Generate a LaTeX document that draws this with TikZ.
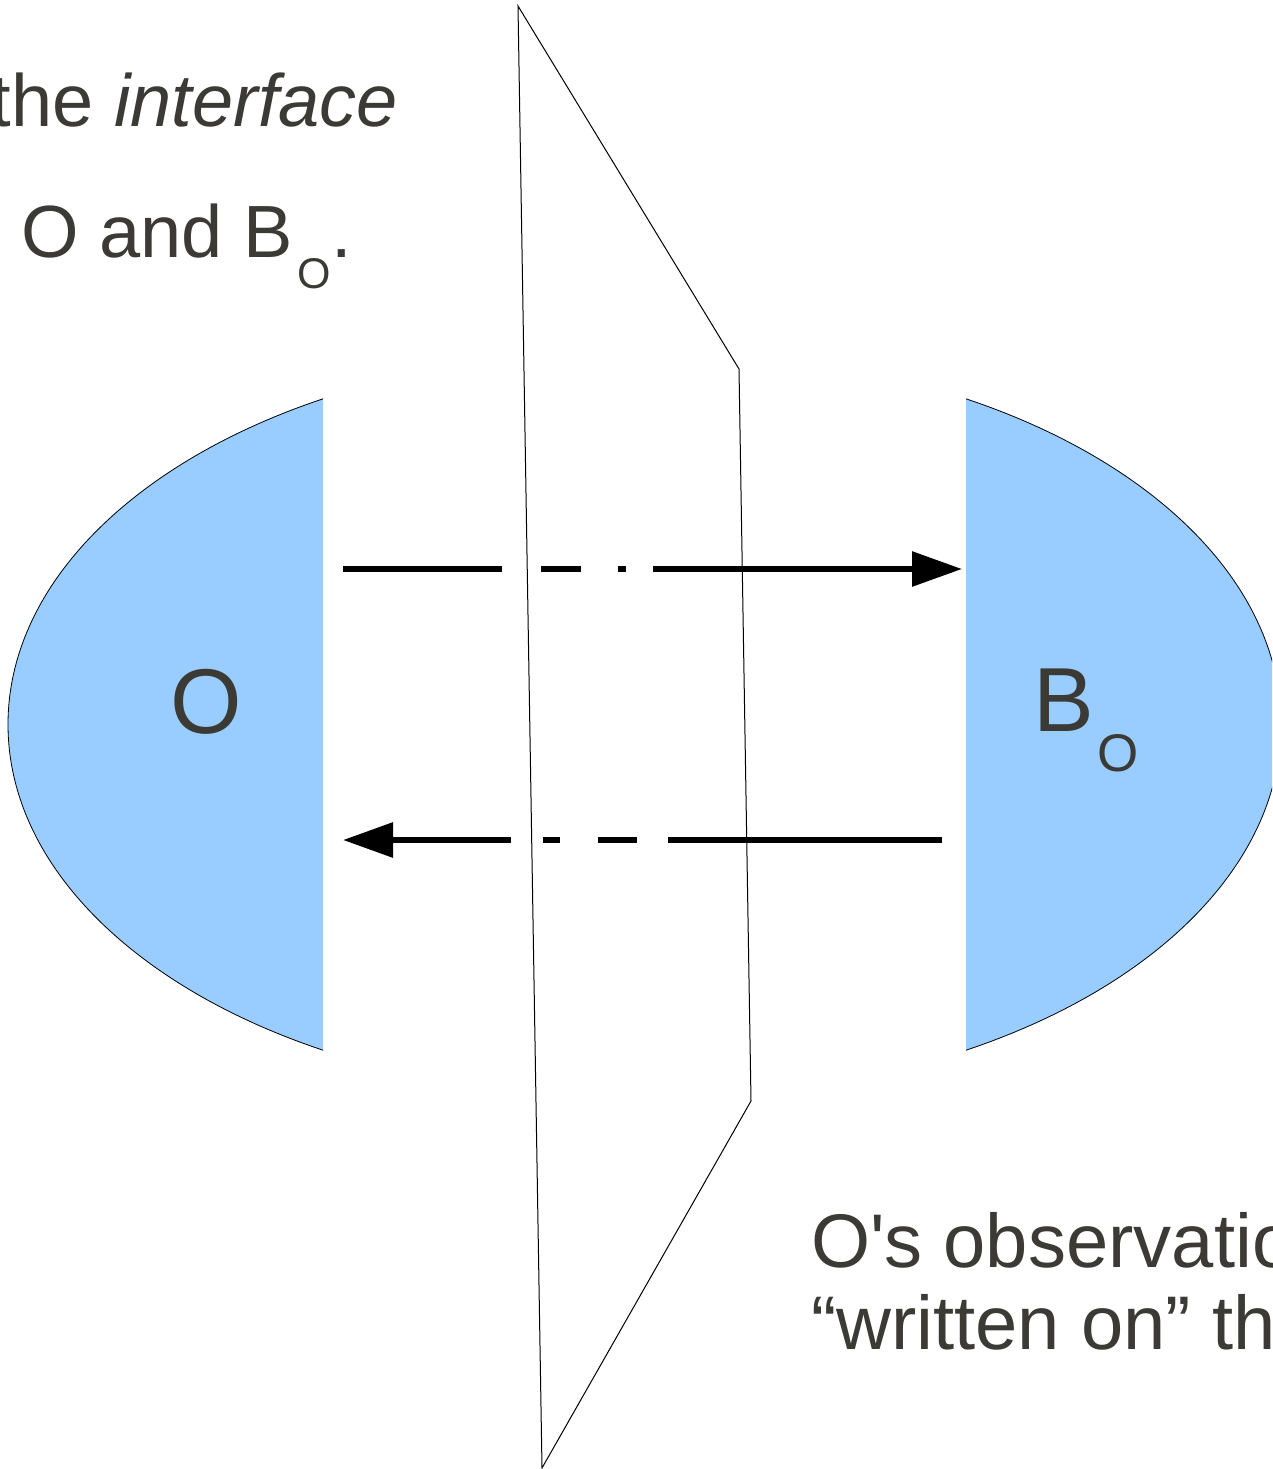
\documentclass[tikz,border=0pt]{standalone}
\usepackage{fontspec}
\setmainfont{Liberation Sans}[Ligatures=TeXOff]
\usetikzlibrary{arrows.meta}
\definecolor{lblue}{RGB}{153,204,255}
\definecolor{txtgray}{RGB}{59,58,53}
\tikzset{
  blob/.style={draw=black, line width=0.8pt, fill=lblue},
  arrowline/.style={line width=6pt, -{Triangle[length=50pt,width=34pt]}},
  plane/.style={draw=black, line width=1pt},
  lbl/.style={text=txtgray, inner sep=0pt, outer sep=0pt}
}
\begin{document}
\begin{tikzpicture}[x=1pt,y=-1pt]
\useasboundingbox (0,0) rectangle (1272,1469);
\clip (0,0) rectangle (1272,1469);
% left blob
\begin{scope}
  \clip (0,0) rectangle (323,1469);
  \path[blob] (608,724.5) ellipse [x radius=600, y radius=370];
\end{scope}
% right blob
\begin{scope}
  \clip (966,0) rectangle (1272,1469);
  \path[blob] (681,724.5) ellipse [x radius=600, y radius=370];
\end{scope}
% labels in blobs
\node[lbl, anchor=base, font=\fontsize{92}{92}\selectfont] (O) at (206.5,733) {O};
\node[lbl, anchor=base west, font=\fontsize{91}{91}\selectfont] (B) at (1033,731) {B\kern4pt\raisebox{-40pt}{\fontsize{53}{53}\selectfont O}};
% arrows
\coordinate (a1s) at (343,569);
\coordinate (a1e) at (962,569);
\coordinate (a2s) at (942,840);
\coordinate (a2e) at (343,840);
\draw[arrowline, dash pattern=on 159pt off 39pt on 40pt off 37pt on 8pt off 27pt on 600pt off 0pt] (a1s) -- (a1e);
\draw[arrowline, dash pattern=on 274pt off 31pt on 39pt off 38pt on 17pt off 32pt on 600pt off 0pt] (a2s) -- (a2e);
% interface plane
\coordinate (p1) at (518,6);
\coordinate (p2) at (739,369);
\coordinate (p3) at (751,1101);
\coordinate (p4) at (542,1468);
\draw[plane] (p1) -- (p2) -- (p3) -- (p4) -- cycle;
% texts
\node[lbl, anchor=base east, font=\fontsize{74}{74}\selectfont] (t1) at (398,127) {the \textit{interface}};
\node[lbl, anchor=base west, font=\fontsize{74}{74}\selectfont] (t2) at (21,257) {O and B\kern5pt\raisebox{-31pt}{\fontsize{43}{43}\selectfont O}\kern1pt.};
\node[lbl, anchor=base west, font=\fontsize{76}{76}\selectfont] (t3) at (811,1267) {O's observations};
\node[lbl, anchor=base west, font=\fontsize{76}{76}\selectfont] (t4) at (811,1349) {“written on” the};
\end{tikzpicture}
\end{document}
